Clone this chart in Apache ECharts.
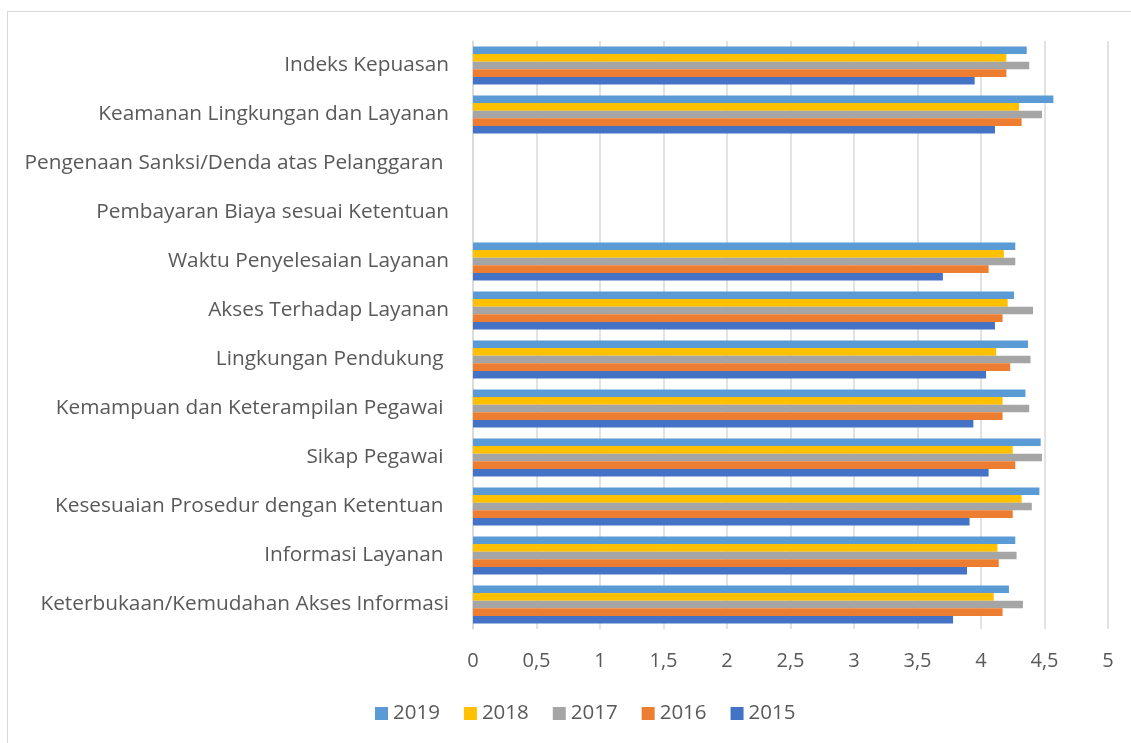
<!DOCTYPE html>
<html>
<head>
<meta charset="utf-8">
<script src="https://cdn.jsdelivr.net/npm/echarts@6/dist/echarts.min.js"></script>
<style>
  html, body { margin: 0; padding: 0; background: #fff; }
  #frame { position: absolute; left: 7px; top: 11px; width: 1140px; height: 750px; border: 1px solid #d9d9d9; }
  #main { position: absolute; left: 0; top: 0; width: 1131px; height: 743px; }
</style>
</head>
<body>
<div id="frame"></div>
<div id="main"></div>
<script>
var myChart = echarts.init(document.getElementById('main'));

// categories, top to bottom as shown
var categories = [
    'Indeks Kepuasan',
    'Keamanan Lingkungan dan Layanan',
    'Pengenaan Sanksi/Denda atas Pelanggaran ',
    'Pembayaran Biaya sesuai Ketentuan',
    'Waktu Penyelesaian Layanan',
    'Akses Terhadap Layanan',
    'Lingkungan Pendukung ',
    'Kemampuan dan Keterampilan Pegawai ',
    'Sikap Pegawai ',
    'Kesesuaian Prosedur dengan Ketentuan ',
    'Informasi Layanan ',
    'Keterbukaan/Kemudahan Akses Informasi'
];
var years = ['2019', '2018', '2017', '2016', '2015'];
var colors = ['#5b9bd5', '#ffc000', '#a5a5a5', '#ed7d31', '#4472c4'];

var v2019 = [4.36, 4.57, '-', '-', 4.27, 4.26, 4.37, 4.35, 4.47, 4.46, 4.27, 4.22];
var v2018 = [4.20, 4.30, '-', '-', 4.18, 4.21, 4.12, 4.17, 4.25, 4.32, 4.13, 4.10];
var v2017 = [4.38, 4.48, '-', '-', 4.27, 4.41, 4.39, 4.38, 4.48, 4.40, 4.28, 4.33];
var v2016 = [4.20, 4.32, '-', '-', 4.06, 4.17, 4.23, 4.17, 4.27, 4.25, 4.14, 4.17];
var v2015 = [3.95, 4.11, '-', '-', 3.70, 4.11, 4.04, 3.94, 4.06, 3.91, 3.89, 3.78];
var values = [v2019, v2018, v2017, v2016, v2015];

var font = 'Open Sans';

var series = [];
for (var i = 0; i < years.length; i++) {
    series.push({
        name: years[i],
        type: 'bar',
        data: values[i],
        barGap: '0%',
        barCategoryGap: '22%',
        itemStyle: { color: colors[i] }
    });
}

option = {
    animation: false,
    textStyle: { fontFamily: font },
    grid: { left: 473, right: 23, top: 41, bottom: 114 },
    legend: {
        data: years,
        bottom: 14,
        left: 370,
        itemWidth: 13,
        itemHeight: 13,
        itemGap: 24,
        icon: 'rect',
        textStyle: { fontSize: 20.5, color: '#595959', fontFamily: font }
    },
    xAxis: {
        type: 'value',
        min: 0,
        max: 5,
        interval: 0.5,
        axisLine: { show: false },
        axisTick: { show: false },
        splitLine: { lineStyle: { color: '#d9d9d9', width: 1.5 } },
        axisLabel: {
            fontSize: 20,
            color: '#595959',
            margin: 22,
            formatter: function (v) { return String(v).replace('.', ','); }
        }
    },
    yAxis: {
        type: 'category',
        inverse: true,
        data: categories,
        axisLine: { lineStyle: { color: '#d9d9d9', width: 1.5 } },
        axisTick: { show: false },
        axisLabel: { fontSize: 20.8, color: '#595959', margin: 24 }
    },
    series: series
};

myChart.setOption(option);
</script>
</body>
</html>
